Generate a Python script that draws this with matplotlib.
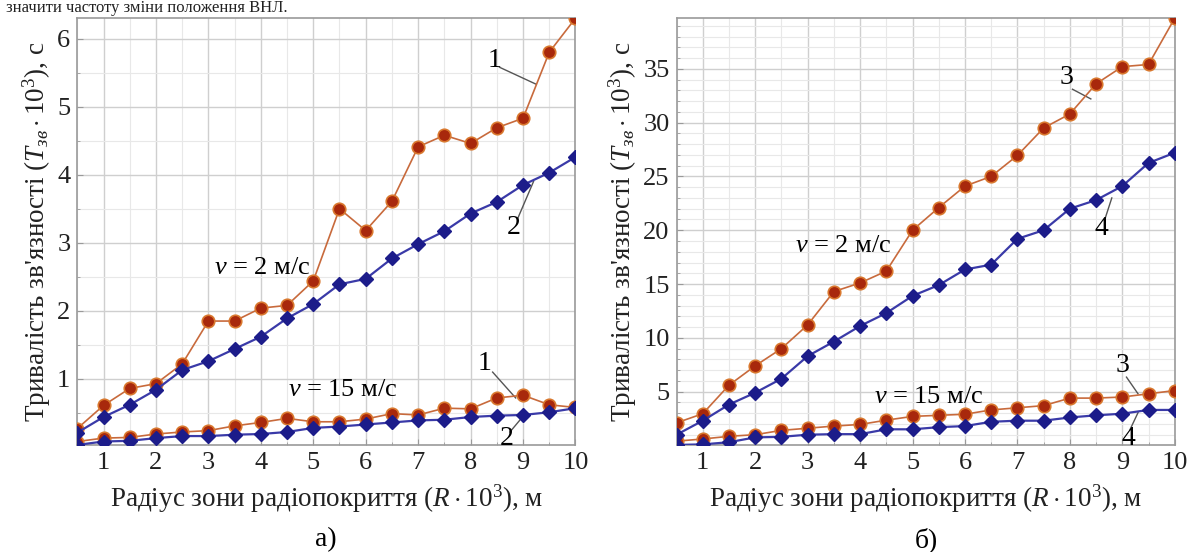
import matplotlib
matplotlib.use('Agg')
import matplotlib.pyplot as plt
from matplotlib.ticker import MultipleLocator

plt.rcParams['font.family'] = ['Liberation Serif', 'DejaVu Serif']
plt.rcParams['mathtext.fontset'] = 'custom'
plt.rcParams['mathtext.rm'] = 'Liberation Serif'
plt.rcParams['mathtext.it'] = 'Liberation Serif:italic'

# радіус зони, R*10^3 м
R = [0.5, 1, 1.5, 2, 2.5, 3, 3.5, 4, 4.5, 5, 5.5, 6, 6.5, 7, 7.5, 8, 8.5, 9, 9.5, 10]

# а) криві 1, 2 при v = 2 м/с та v = 15 м/с
a1_v2 = [0.27, 0.61, 0.86, 0.93, 1.22, 1.85, 1.85, 2.04, 2.08, 2.44,
         3.50, 3.18, 3.61, 4.41, 4.58, 4.46, 4.69, 4.83, 5.80, 6.30]
a2_v2 = [0.21, 0.44, 0.62, 0.84, 1.13, 1.26, 1.44, 1.62, 1.89, 2.10,
         2.39, 2.47, 2.77, 2.98, 3.17, 3.43, 3.60, 3.85, 4.03, 4.26]
a1_v15 = [0.08, 0.13, 0.14, 0.19, 0.22, 0.24, 0.31, 0.36, 0.42, 0.37,
          0.37, 0.41, 0.49, 0.47, 0.57, 0.56, 0.72, 0.76, 0.62, 0.58]
a2_v15 = [0.03, 0.08, 0.09, 0.13, 0.16, 0.16, 0.18, 0.19, 0.22, 0.28,
          0.30, 0.33, 0.36, 0.39, 0.40, 0.44, 0.46, 0.47, 0.51, 0.57]

# б) криві 3, 4
b3_v2 = [2.1, 2.95, 5.6, 7.4, 9.0, 11.2, 14.3, 15.1, 16.2, 20.0,
         22.1, 24.1, 25.0, 26.95, 29.5, 30.8, 33.6, 35.2, 35.4, 39.7]
b4_v2 = [1.0, 2.3, 3.8, 4.9, 6.2, 8.3, 9.65, 11.1, 12.3, 13.9,
         14.9, 16.35, 16.8, 19.2, 20.0, 22.0, 22.8, 24.1, 26.25, 27.2]
b3_v15 = [0.4, 0.6, 0.85, 1.0, 1.4, 1.6, 1.8, 1.95, 2.35, 2.7,
          2.8, 2.9, 3.3, 3.5, 3.7, 4.4, 4.4, 4.5, 4.8, 5.1]
b4_v15 = [0.05, 0.1, 0.3, 0.75, 0.8, 1.0, 1.05, 1.05, 1.5, 1.5,
          1.7, 1.8, 2.2, 2.3, 2.3, 2.6, 2.8, 2.95, 3.3, 3.3]

red_line = '#c86a3c'
red_face = '#a8280c'
red_edge = '#d9782e'
blue_line = '#3a3aa8'
blue_face = '#1c1c8a'

fig = plt.figure(figsize=(11.89, 5.52), dpi=100)
axa = fig.add_axes([0.065, 0.194, 0.419, 0.773])
axb = fig.add_axes([0.569, 0.194, 0.419, 0.773])

fig.text(0.005, 1 - 12 / 552, 'значити частоту зміни положення ВНЛ.',
         fontsize=12, va='baseline', ha='left', color='#222222')


def red(ax, y):
    ax.plot(R, y, '-', color=red_line, lw=1.2, marker='o', ms=9,
            mfc=red_face, mec=red_edge, mew=1.2, zorder=3)


def blue(ax, y):
    ax.plot(R, y, '-', color=blue_line, lw=1.6, marker='D', ms=7.5,
            mfc=blue_face, mec=blue_face, zorder=4)


red(axa, a1_v2)
blue(axa, a2_v2)
red(axa, a1_v15)
blue(axa, a2_v15)

red(axb, b3_v2)
blue(axb, b4_v2)
red(axb, b3_v15)
blue(axb, b4_v15)

allA = a1_v2 + a2_v2 + a1_v15 + a2_v15
allB = b3_v2 + b4_v2 + b3_v15 + b4_v15
axa.set_xlim(0.5, 10)
axa.set_ylim(min(allA), max(allA))
axb.set_xlim(0.5, 10)
axb.set_ylim(min(allB), max(allB))

axa.yaxis.set_major_locator(MultipleLocator(1))
axa.yaxis.set_minor_locator(MultipleLocator(0.5))
axb.yaxis.set_major_locator(MultipleLocator(5))
axb.yaxis.set_minor_locator(MultipleLocator(1))

for ax in (axa, axb):
    ax.xaxis.set_major_locator(MultipleLocator(1))
    ax.xaxis.set_minor_locator(MultipleLocator(0.5))
    ax.grid(which='major', color='#cfcfcf', lw=1.0)
    ax.grid(which='minor', color='#e8e8e8', lw=0.8)
    ax.set_axisbelow(True)
    for s in ax.spines.values():
        s.set_color('#9a9a9a')
        s.set_linewidth(1.2)
    ax.tick_params(which='both', direction='in', labelsize=19, colors='#9a9a9a',
                   labelcolor='#222222', pad=5)
    ax.tick_params(which='major', length=4)
    ax.tick_params(which='minor', length=2)
    ax.set_xlabel(r'Радіус зони радіопокриття ($R\cdot10^3$), м',
                  fontsize=19.5, color='#222222', labelpad=6)
    ax.set_ylabel(r"Тривалість зв'язності ($T_{зв}\cdot10^3$), с",
                  fontsize=19.5, color='#222222', labelpad=3)

axb.set_yticks([5, 10, 15, 20, 25, 30, 35])

# підписи кривих
ann = dict(color='#555555', lw=1.0)
fs = 20
axa.text(8.46, 5.68, '1', fontsize=fs, ha='center', va='center')
axa.plot([8.55, 9.25], [5.58, 5.33], **ann)
axa.text(8.82, 3.22, '2', fontsize=fs, ha='center', va='center')
axa.plot([8.9, 9.2], [3.36, 3.9], **ann)
axa.text(8.27, 1.22, '1', fontsize=fs, ha='center', va='center')
axa.plot([8.42, 8.86], [1.10, 0.72], **ann)
axa.text(8.68, 0.12, '2', fontsize=fs, ha='center', va='center')
axa.plot([8.75, 9.0], [0.22, 0.45], **ann)
axa.text(4.03, 2.63, r'$v$ = 2 м/с', fontsize=19, ha='center', va='center')
axa.text(5.56, 0.84, r'$v$ = 15 м/с', fontsize=19, ha='center', va='center')

axb.text(7.94, 34.2, '3', fontsize=fs, ha='center', va='center')
axb.plot([8.05, 8.4], [33.1, 32.2], **ann)
axb.text(8.6, 20.2, '4', fontsize=fs, ha='center', va='center')
axb.plot([8.68, 8.8], [21.2, 23.0], **ann)
axb.text(9.0, 7.45, '3', fontsize=fs, ha='center', va='center')
axb.plot([9.08, 9.3], [6.35, 4.8], **ann)
axb.text(9.12, 0.6, '4', fontsize=fs, ha='center', va='center')
axb.plot([9.15, 9.3], [1.5, 3.05], **ann)
axb.text(3.67, 18.5, r'$v$ = 2 м/с', fontsize=19, ha='center', va='center')
axb.text(5.32, 4.5, r'$v$ = 15 м/с', fontsize=19, ha='center', va='center')

fig.text(0.274, 1 - 540 / 552, 'а)', fontsize=20, ha='center', va='center')
fig.text(0.779, 1 - 540 / 552, 'б)', fontsize=20, ha='center', va='center')

fig.savefig('out.png', dpi=100)
